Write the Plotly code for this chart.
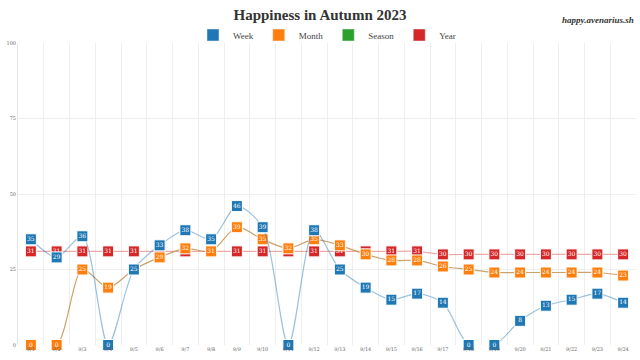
import plotly.graph_objects as go

dates = ["9/1","9/2","9/3","9/4","9/5","9/6","9/7","9/8","9/9","9/10","9/11","9/12",
         "9/13","9/14","9/15","9/16","9/17","9/18","9/19","9/20","9/21","9/22","9/23","9/24"]
week = [35,29,36,0,25,33,38,35,46,39,0,38,25,19,15,17,14,0,0,8,13,15,17,14]
month = [0,0,25,19,25,29,32,31,39,35,32,35,33,30,28,28,26,25,24,24,24,24,24,23]
season = []
year = [31,31,31,31,31,31,31,31,31,31,31,31,31,31,31,31,30,30,30,30,30,30,30,30]

series = [
    ("Week", week, "#1f77b4", "rgba(31,119,180,0.45)"),
    ("Month", month, "#ff7f0e", "rgba(195,145,80,0.85)"),
    ("Season", season, "#2ca02c", "rgba(44,160,44,0.5)"),
    ("Year", year, "#d62728", "rgba(214,39,40,0.4)"),
]

fig = go.Figure()
order = [3, 2, 1, 0]
for i in order:
    name, vals, col, lcol = series[i]
    fig.add_trace(go.Scatter(
        x=dates[:len(vals)], y=vals, mode="lines+markers+text",
        text=[str(v) for v in vals], textposition="middle center",
        textfont=dict(color="white", size=6, family="DejaVu Serif"),
        line=dict(color=lcol, width=1.2, shape="spline", smoothing=0.8),
        marker=dict(symbol="square", size=11, color=col, line=dict(color="white", width=1)),
        cliponaxis=False, showlegend=False, name=name,
    ))
for name, vals, col, lcol in series:
    fig.add_trace(go.Bar(x=[None], y=[None], name=name, marker=dict(color=col), showlegend=True))

fig.update_layout(
    width=640, height=360,
    margin=dict(l=18, r=4, t=43, b=15),
    paper_bgcolor="white", plot_bgcolor="white",
    title=dict(text="<b>Happiness in Autumn 2023</b>", x=0.5, xanchor="center", y=1 - 15/360, yanchor="middle",
               font=dict(family="Liberation Serif", size=15, color="#333")),
    legend=dict(orientation="h", x=0.5, xanchor="center", y=1 + 8/302, yanchor="middle",
                font=dict(family="Liberation Serif", size=9, color="#444"),
                tracegroupgap=0, bgcolor="rgba(0,0,0,0)"),
    xaxis=dict(type="category", tickson="boundaries", showgrid=True, gridcolor="#eeeeee",
               ticks="", tickfont=dict(size=5, color="#666", family="DejaVu Serif"),
               range=[-0.5, 23.5], showline=False, zeroline=False, automargin=False),
    yaxis=dict(range=[0, 100], tickvals=[0, 25, 50, 75, 100], showgrid=True, gridcolor="#eeeeee",
               tickfont=dict(size=5, color="#666", family="DejaVu Serif"), zeroline=False,
               showline=True, linecolor="#e6e6e6", ticks="", automargin=False),
    annotations=[dict(text="<b><i>happy.avenarius.sh</i></b>", x=1.0, xref="paper", xanchor="right",
                      y=1 + 23/302, yref="paper", yanchor="middle", showarrow=False,
                      font=dict(family="Liberation Serif", size=9, color="#333"))],
)
fig.write_html("out.html", config={"displayModeBar": False},
               post_script="document.body.style.margin='0';")
